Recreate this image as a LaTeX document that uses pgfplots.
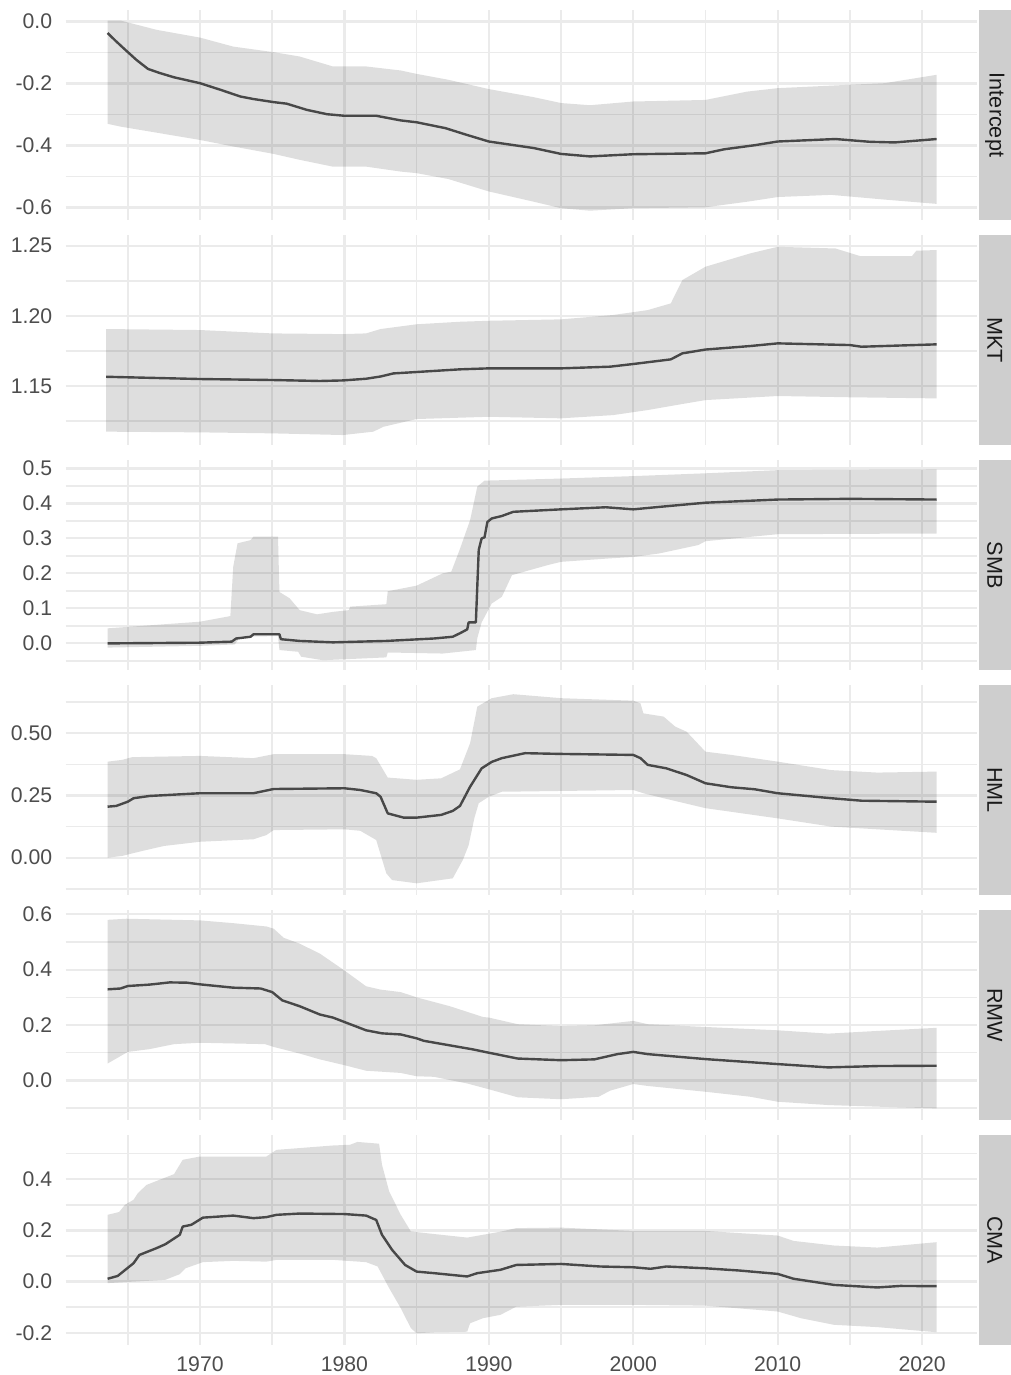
\documentclass[border=0pt]{standalone}
\usepackage{fontspec}
\setmainfont{Liberation Sans}
\usepackage{pgfplots}
\pgfplotsset{compat=1.18}
\usepgfplotslibrary{fillbetween}
\definecolor{gridc}{RGB}{235,235,235}
\definecolor{tickc}{RGB}{77,77,77}
\definecolor{stripc}{RGB}{206,206,206}
\definecolor{stript}{RGB}{26,26,26}
\definecolor{linec}{RGB}{72,72,72}
\pgfplotsset{
 panel/.style={
  scale only axis, width=455.65pt, height=105pt,
  anchor=north west,
  xmin=1960.7, xmax=2023.8,
  axis line style={draw=none},
  major tick length=0pt, minor tick length=0pt,
  xtick={1970,1980,1990,2000,2010,2020},
  minor xtick={1965,1975,1985,1995,2005,2015},
  xticklabels={,,,,,},
  grid=both,
  major grid style={draw=gridc, line width=1.1pt},
  minor grid style={draw=gridc, line width=0.75pt},
  tick label style={font=\fontsize{10.6}{12}\selectfont, text=tickc},
  yticklabel style={anchor=east, inner sep=0pt, xshift=-6.6pt},
 },
 band/.style={fill=black, fill opacity=0.13, draw=none},
 mean/.style={draw=linec, line width=1.2pt, no markers, line join=round},
 bnd/.style={draw=none, no markers, forget plot},
}
\begin{document}
\begin{tikzpicture}

% ---------------- Intercept
\begin{axis}[panel, at={(32.85pt,-5pt)}, ymin=-0.64, ymax=0.037,
  ytick={-0.6,-0.4,-0.2,0}, yticklabels={-0.6,-0.4,-0.2,0.0},
  minor ytick={-0.5,-0.3,-0.1}]
\addplot[bnd, name path=up] coordinates {(1963.6,0.003)(1964.5,0.003)(1967.0,-0.027)(1970.0,-0.052)(1972.3,-0.081)(1975.1,-0.099)(1976.9,-0.113)(1979.2,-0.145)(1981.5,-0.145)(1983.9,-0.158)(1985.0,-0.169)(1987.2,-0.188)(1990.0,-0.218)(1993.1,-0.244)(1995.0,-0.263)(1997.0,-0.270)(2000.0,-0.258)(2005.0,-0.253)(2007.9,-0.226)(2010.0,-0.215)(2015.0,-0.204)(2017.4,-0.199)(2021.0,-0.172)};
\addplot[bnd, name path=lo] coordinates {(1963.6,-0.330)(1964.5,-0.339)(1970.0,-0.382)(1972.3,-0.403)(1975.1,-0.427)(1976.9,-0.446)(1979.2,-0.468)(1981.5,-0.468)(1983.9,-0.484)(1985.0,-0.489)(1987.2,-0.508)(1990.0,-0.548)(1993.1,-0.581)(1995.0,-0.602)(1997.0,-0.610)(2000.0,-0.602)(2005.0,-0.599)(2007.9,-0.581)(2010.0,-0.566)(2013.7,-0.559)(2017.6,-0.575)(2021.0,-0.588)};
\addplot[band] fill between[of=up and lo];
\addplot[mean] coordinates {(1963.6,-0.037)(1964.1,-0.060)(1964.7,-0.086)(1965.6,-0.124)(1966.4,-0.153)(1967.2,-0.166)(1968.2,-0.180)(1970.0,-0.199)(1971.4,-0.220)(1972.8,-0.242)(1973.7,-0.250)(1975.1,-0.260)(1976.0,-0.265)(1977.4,-0.285)(1978.8,-0.299)(1980.0,-0.304)(1982.2,-0.304)(1983.9,-0.319)(1985.0,-0.325)(1987.0,-0.344)(1988.5,-0.366)(1990.0,-0.387)(1993.1,-0.408)(1995.0,-0.427)(1997.0,-0.435)(2000.0,-0.428)(2005.0,-0.425)(2006.3,-0.412)(2008.4,-0.399)(2010.0,-0.387)(2014.0,-0.379)(2016.4,-0.388)(2018.1,-0.390)(2021.0,-0.379)};
\end{axis}

% ---------------- MKT
\begin{axis}[panel, at={(32.85pt,-117.5pt)}, ymin=1.108, ymax=1.2576,
  ytick={1.15,1.20,1.25}, yticklabels={1.15,1.20,1.25},
  minor ytick={1.125,1.175,1.225}]
\addplot[bnd, name path=up] coordinates {(1963.5,1.1906)(1970.0,1.1899)(1975.0,1.1875)(1979.9,1.1870)(1981.5,1.1875)(1982.5,1.1906)(1985.0,1.1940)(1988.0,1.1958)(1990.0,1.1965)(1995.0,1.1975)(1998.6,1.2006)(2001.0,1.2041)(2002.6,1.2089)(2003.4,1.2255)(2005.0,1.2350)(2008.1,1.2445)(2010.0,1.2492)(2014.0,1.2480)(2015.7,1.2426)(2019.3,1.2426)(2019.6,1.2464)(2021.0,1.2469)};
\addplot[bnd, name path=lo] coordinates {(1963.5,1.1175)(1970.0,1.1170)(1975.0,1.1163)(1979.9,1.1151)(1982.0,1.1175)(1982.7,1.1210)(1985.0,1.1265)(1990.0,1.1281)(1995.0,1.1270)(1998.6,1.1293)(2001.0,1.1329)(2003.0,1.1365)(2005.0,1.1400)(2010.0,1.1429)(2015.0,1.1420)(2021.0,1.1412)};
\addplot[band] fill between[of=up and lo];
\addplot[mean] coordinates {(1963.5,1.1566)(1970.0,1.1550)(1975.0,1.1543)(1978.3,1.1536)(1979.9,1.1540)(1981.5,1.1552)(1982.5,1.1568)(1983.4,1.1590)(1985.0,1.1600)(1988.0,1.1619)(1990.0,1.1626)(1995.0,1.1626)(1998.4,1.1638)(2000.0,1.1657)(2002.6,1.1690)(2003.4,1.1733)(2005.0,1.1760)(2008.1,1.1785)(2010.0,1.1804)(2015.0,1.1792)(2015.8,1.1780)(2021.0,1.1797)};
\end{axis}

% ---------------- SMB
\begin{axis}[panel, at={(32.85pt,-230pt)}, ymin=-0.076, ymax=0.524,
  ytick={0,0.1,0.2,0.3,0.4,0.5}, yticklabels={0.0,0.1,0.2,0.3,0.4,0.5},
  minor ytick={-0.05,0.05,0.15,0.25,0.35,0.45}]
\addplot[bnd, name path=up] coordinates {(1963.6,0.043)(1970.0,0.062)(1972.1,0.078)(1972.3,0.219)(1972.6,0.286)(1973.5,0.295)(1973.7,0.305)(1975.4,0.305)(1975.5,0.147)(1976.2,0.129)(1976.9,0.095)(1978.1,0.083)(1979.2,0.090)(1980.3,0.095)(1980.4,0.105)(1982.9,0.112)(1983.0,0.149)(1985.0,0.165)(1986.8,0.200)(1987.4,0.205)(1988.0,0.270)(1988.7,0.352)(1989.2,0.448)(1989.7,0.465)(1995.0,0.471)(2000.0,0.478)(2005.0,0.486)(2010.0,0.495)(2021.0,0.497)};
\addplot[bnd, name path=lo] coordinates {(1963.6,-0.012)(1970.0,-0.007)(1972.4,-0.003)(1972.8,0.019)(1975.4,0.021)(1975.5,-0.019)(1976.8,-0.024)(1977.0,-0.038)(1978.5,-0.048)(1980.2,-0.045)(1982.9,-0.040)(1983.0,-0.026)(1986.8,-0.029)(1989.1,-0.019)(1989.2,0.015)(1989.5,0.060)(1990.2,0.114)(1990.9,0.133)(1991.6,0.195)(1994.1,0.224)(1995.0,0.233)(1998.4,0.243)(2000.0,0.247)(2001.8,0.257)(2004.5,0.281)(2005.0,0.292)(2010.0,0.312)(2021.0,0.314)};
\addplot[band] fill between[of=up and lo];
\addplot[mean] coordinates {(1963.6,0.000)(1970.0,0.002)(1972.2,0.005)(1972.5,0.014)(1973.5,0.019)(1973.7,0.026)(1975.5,0.026)(1975.6,0.012)(1976.9,0.007)(1979.2,0.003)(1982.9,0.007)(1986.2,0.014)(1987.5,0.019)(1988.0,0.029)(1988.5,0.040)(1988.6,0.060)(1989.1,0.060)(1989.3,0.267)(1989.5,0.300)(1989.7,0.303)(1989.9,0.347)(1990.2,0.357)(1990.9,0.364)(1991.7,0.376)(1995.0,0.383)(1998.1,0.389)(2000.0,0.383)(2001.8,0.390)(2005.0,0.402)(2010.0,0.411)(2015.0,0.413)(2021.0,0.411)};
\end{axis}

% ---------------- HML
\begin{axis}[panel, at={(32.85pt,-342.5pt)}, ymin=-0.150, ymax=0.694,
  ytick={0,0.25,0.5}, yticklabels={0.00,0.25,0.50},
  minor ytick={-0.125,0.125,0.375,0.625}]
\addplot[bnd, name path=up] coordinates {(1963.6,0.386)(1964.6,0.393)(1965.3,0.404)(1970.0,0.409)(1973.7,0.400)(1975.1,0.416)(1980.0,0.416)(1981.9,0.409)(1982.2,0.400)(1983.0,0.322)(1985.0,0.313)(1986.7,0.319)(1988.0,0.355)(1988.7,0.460)(1989.2,0.607)(1990.2,0.641)(1991.7,0.657)(1995.0,0.641)(2000.0,0.631)(2000.5,0.620)(2000.7,0.580)(2002.1,0.567)(2002.9,0.527)(2003.7,0.506)(2005.0,0.426)(2006.8,0.413)(2010.0,0.386)(2013.7,0.352)(2016.9,0.342)(2021.0,0.346)};
\addplot[bnd, name path=lo] coordinates {(1963.6,0.000)(1964.6,0.007)(1966.0,0.027)(1967.5,0.047)(1970.0,0.064)(1973.7,0.074)(1974.6,0.091)(1975.1,0.111)(1980.0,0.114)(1981.1,0.108)(1982.2,0.071)(1982.9,-0.063)(1983.3,-0.090)(1985.0,-0.103)(1987.5,-0.083)(1988.2,-0.009)(1988.6,0.050)(1989.0,0.160)(1989.3,0.219)(1990.0,0.245)(1990.9,0.265)(2000.0,0.272)(2000.7,0.259)(2002.1,0.239)(2005.0,0.199)(2010.0,0.158)(2013.7,0.125)(2016.9,0.114)(2021.0,0.100)};
\addplot[band] fill between[of=up and lo];
\addplot[mean] coordinates {(1963.6,0.205)(1964.2,0.208)(1965.0,0.225)(1965.4,0.239)(1966.5,0.248)(1970.0,0.259)(1973.7,0.259)(1975.1,0.276)(1980.0,0.279)(1981.1,0.272)(1982.2,0.259)(1982.5,0.245)(1983.0,0.178)(1984.1,0.161)(1985.0,0.161)(1986.7,0.172)(1987.5,0.188)(1988.0,0.208)(1988.7,0.285)(1989.5,0.359)(1990.2,0.385)(1990.9,0.400)(1992.5,0.420)(1995.0,0.417)(2000.0,0.413)(2000.5,0.400)(2001.0,0.373)(2002.3,0.359)(2003.7,0.332)(2005.0,0.299)(2006.8,0.283)(2008.4,0.275)(2010.0,0.259)(2013.7,0.239)(2015.8,0.229)(2021.0,0.225)};
\end{axis}

% ---------------- RMW
\begin{axis}[panel, at={(32.85pt,-455pt)}, ymin=-0.143, ymax=0.6155,
  ytick={0,0.2,0.4,0.6}, yticklabels={0.0,0.2,0.4,0.6},
  minor ytick={-0.1,0.1,0.3,0.5}]
\addplot[bnd, name path=up] coordinates {(1963.6,0.580)(1964.9,0.584)(1970.0,0.578)(1972.3,0.568)(1974.6,0.556)(1975.1,0.548)(1975.8,0.515)(1976.9,0.494)(1978.3,0.458)(1980.0,0.397)(1981.5,0.340)(1982.5,0.328)(1983.9,0.319)(1985.0,0.300)(1987.3,0.268)(1989.6,0.229)(1990.0,0.227)(1992.0,0.203)(1995.0,0.196)(1997.3,0.199)(2000.0,0.215)(2001.0,0.203)(2005.0,0.193)(2010.0,0.181)(2013.5,0.169)(2017.0,0.179)(2021.0,0.190)};
\addplot[bnd, name path=lo] coordinates {(1963.6,0.061)(1965.0,0.103)(1966.5,0.113)(1968.2,0.131)(1970.0,0.136)(1974.5,0.131)(1975.1,0.121)(1976.9,0.097)(1978.3,0.076)(1980.0,0.055)(1981.5,0.035)(1983.9,0.027)(1985.0,0.015)(1986.2,0.013)(1988.5,-0.011)(1990.0,-0.032)(1992.0,-0.061)(1995.0,-0.068)(1997.6,-0.059)(1998.4,-0.037)(2000.0,-0.013)(2001.0,-0.020)(2005.0,-0.041)(2008.1,-0.059)(2010.0,-0.077)(2013.5,-0.089)(2017.0,-0.095)(2021.0,-0.101)};
\addplot[band] fill between[of=up and lo];
\addplot[mean] coordinates {(1963.6,0.329)(1964.5,0.332)(1965.0,0.341)(1966.5,0.346)(1967.9,0.354)(1969.1,0.353)(1970.0,0.347)(1972.3,0.335)(1974.2,0.332)(1975.0,0.319)(1975.7,0.289)(1976.9,0.268)(1978.3,0.238)(1979.2,0.227)(1980.0,0.211)(1981.5,0.181)(1982.6,0.170)(1983.9,0.166)(1985.0,0.152)(1985.5,0.143)(1988.9,0.112)(1990.0,0.100)(1992.0,0.079)(1995.0,0.073)(1997.3,0.076)(1998.9,0.095)(2000.0,0.103)(2001.0,0.095)(2005.0,0.077)(2010.0,0.059)(2013.5,0.047)(2017.0,0.052)(2021.0,0.053)};
\end{axis}

% ---------------- CMA
\begin{axis}[panel, at={(32.85pt,-567.5pt)}, ymin=-0.248, ymax=0.573,
  ytick={-0.2,0,0.2,0.4}, yticklabels={-0.2,0.0,0.2,0.4},
  minor ytick={-0.1,0.1,0.3,0.5},
  xticklabels={1970,1980,1990,2000,2010,2020},
  xticklabel style={anchor=north, inner sep=0pt, yshift=-5.5pt}]
\addplot[bnd, name path=up] coordinates {(1963.6,0.261)(1964.4,0.272)(1964.8,0.300)(1965.4,0.320)(1965.7,0.346)(1966.3,0.378)(1968.2,0.420)(1968.8,0.476)(1970.0,0.489)(1974.6,0.489)(1975.3,0.515)(1979.2,0.532)(1980.4,0.535)(1980.9,0.546)(1982.4,0.539)(1982.6,0.457)(1983.1,0.352)(1983.9,0.261)(1984.6,0.196)(1986.2,0.186)(1988.5,0.172)(1990.8,0.195)(1991.9,0.209)(1995.0,0.211)(2000.0,0.198)(2005.0,0.198)(2010.0,0.180)(2011.1,0.159)(2013.9,0.141)(2016.9,0.133)(2021.0,0.154)};
\addplot[bnd, name path=lo] coordinates {(1963.6,-0.006)(1967.6,0.007)(1968.6,0.029)(1969.0,0.052)(1970.2,0.076)(1972.3,0.081)(1974.6,0.078)(1975.3,0.085)(1979.2,0.085)(1981.5,0.076)(1982.3,0.059)(1983.1,-0.026)(1983.9,-0.104)(1984.6,-0.182)(1985.0,-0.202)(1986.2,-0.198)(1988.5,-0.196)(1988.7,-0.163)(1989.6,-0.143)(1990.8,-0.130)(1991.9,-0.098)(1995.0,-0.091)(2000.0,-0.091)(2005.0,-0.094)(2010.0,-0.117)(2011.6,-0.143)(2013.9,-0.169)(2016.9,-0.178)(2021.0,-0.198)};
\addplot[band] fill between[of=up and lo];
\addplot[mean] coordinates {(1963.6,0.011)(1964.3,0.022)(1965.4,0.072)(1965.8,0.104)(1967.0,0.131)(1967.6,0.146)(1968.6,0.183)(1968.8,0.215)(1969.4,0.222)(1970.2,0.250)(1972.3,0.258)(1973.7,0.248)(1974.6,0.252)(1975.3,0.261)(1976.9,0.266)(1980.0,0.264)(1981.5,0.258)(1982.2,0.241)(1982.6,0.183)(1983.3,0.124)(1984.2,0.065)(1985.0,0.039)(1986.2,0.033)(1988.5,0.020)(1989.2,0.033)(1990.8,0.046)(1991.9,0.065)(1995.0,0.069)(1997.7,0.059)(2000.0,0.056)(2001.2,0.050)(2002.3,0.059)(2005.0,0.052)(2007.4,0.043)(2010.0,0.030)(2011.1,0.011)(2013.9,-0.013)(2016.9,-0.023)(2018.5,-0.017)(2021.0,-0.018)};
\end{axis}

% ---------------- strips
\foreach \i/\lab in {0/Intercept,1/MKT,2/SMB,3/HML,4/RMW,5/CMA}{
  \fill[stripc] (489.25pt,{-5pt-\i*112.5pt}) rectangle (505.5pt,{-110pt-\i*112.5pt});
  \node[rotate=-90, text=stript, font=\fontsize{10.8}{12}\selectfont, inner sep=0pt]
    at (497.4pt,{-57.5pt-\i*112.5pt}) {\lab};
}
\pgfresetboundingbox
\path[use as bounding box] (0,0) rectangle (505.5pt,-687.5pt);
\end{tikzpicture}
\end{document}
